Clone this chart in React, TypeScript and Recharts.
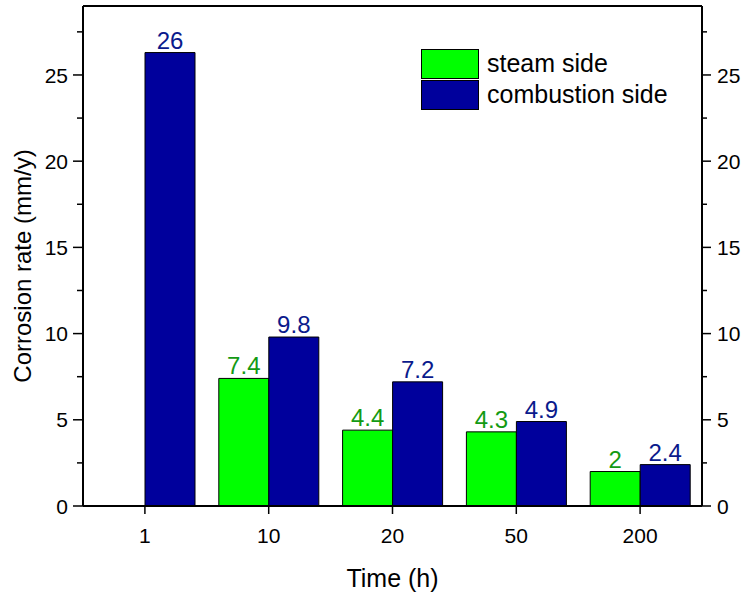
import {
  BarChart,
  Bar,
  XAxis,
  YAxis,
  Legend,
  LabelList,
} from "recharts";

const times = ["1", "10", "20", "50", "200"];
const steamSide = [null, 7.4, 4.4, 4.3, 2.0];
const combustionSide = [26.3, 9.8, 7.2, 4.9, 2.4];
const steamLabels = [null, "7.4", "4.4", "4.3", "2"];
const combustionLabels = ["26", "9.8", "7.2", "4.9", "2.4"];
const seriesNames = ["steam side", "combustion side"];
const yTicks = [0, 2.5, 5, 7.5, 10, 12.5, 15, 17.5, 20, 22.5, 25, 27.5];
const topTicks = [0.5, 1, 1.5, 2, 2.5, 3, 3.5, 4, 4.5];

const data = times.map((t, i) => ({
  time: t,
  steam: steamSide[i],
  combustion: combustionSide[i],
  steamLabel: steamLabels[i],
  combustionLabel: combustionLabels[i],
}));

const FONT = "'Liberation Sans', Arial, sans-serif";

function LeftTick({ x, y, payload }: any) {
  const major = payload.value % 5 === 0;
  return (
    <g>
      <line x1={x - (major ? 10 : 6)} x2={x} y1={y} y2={y} stroke="#000" strokeWidth={1.5} />
      {major && (
        <text x={x - 15} y={y} dy="0.36em" textAnchor="end" fontSize={21} fontFamily={FONT} fill="#000">
          {payload.value}
        </text>
      )}
    </g>
  );
}

function RightTick({ x, y, payload }: any) {
  const major = payload.value % 5 === 0;
  return (
    <g>
      <line x1={x} x2={x + (major ? 9 : 5)} y1={y} y2={y} stroke="#000" strokeWidth={1.5} />
      {major && (
        <text x={x + 15} y={y} dy="0.36em" textAnchor="start" fontSize={21} fontFamily={FONT} fill="#000">
          {payload.value}
        </text>
      )}
    </g>
  );
}

function LegendBox({ payload }: any) {
  const items = [...(payload || [])].sort(
    (a: any, b: any) => seriesNames.indexOf(a.value) - seriesNames.indexOf(b.value)
  );
  return (
    <div style={{ fontFamily: FONT, fontSize: 25, color: "#000" }}>
      {items.map((p: any) => (
        <div key={p.value} style={{ display: "flex", alignItems: "center", height: 31 }}>
          <div
            style={{
              width: 56,
              height: 28,
              background: p.color,
              border: "1px solid #000",
              marginRight: 8,
            }}
          />
          <span>{p.value}</span>
        </div>
      ))}
    </div>
  );
}

export default function App() {
  return (
    <div style={{ width: 743, height: 597, background: "#fff" }}>
      <style>{"body{margin:0}"}</style>
      <BarChart
        width={743}
        height={597}
        data={data}
        margin={{ top: 6, right: 0, bottom: 0, left: 0 }}
        barSize={50}
        barGap={0}
      >
        <XAxis
          dataKey="time"
          height={91}
          stroke="#000"
          axisLine={{ stroke: "#000", strokeWidth: 2 }}
          tickLine={{ stroke: "#000", strokeWidth: 1.5 }}
          tickSize={8}
          tickMargin={14}
          tick={{ fill: "#000", fontSize: 21, fontFamily: FONT }}
          label={({ viewBox }: any) => (
            <text
              x={viewBox.x + viewBox.width / 2}
              y={viewBox.y + 81}
              textAnchor="middle"
              fontSize={25}
              fontFamily={FONT}
              fill="#000"
            >
              Time (h)
            </text>
          )}
        />
        <XAxis
          xAxisId="top"
          orientation="top"
          type="number"
          domain={[0, 5]}
          allowDataOverflow
          ticks={topTicks}
          interval={0}
          mirror
          height={1}
          tick={false}
          tickSize={8}
          axisLine={{ stroke: "#000", strokeWidth: 2 }}
          tickLine={{ stroke: "#000", strokeWidth: 1.5 }}
        />
        <YAxis
          yAxisId="left"
          width={83}
          domain={[0, 29]}
          allowDataOverflow
          ticks={yTicks}
          interval={0}
          tickSize={0}
          tickMargin={0}
          tickLine={false}
          axisLine={{ stroke: "#000", strokeWidth: 2 }}
          tick={<LeftTick />}
          label={({ viewBox }: any) => {
            const cx = 22;
            const cy = viewBox.y + viewBox.height / 2 + 10;
            return (
              <text
                x={cx}
                y={cy}
                transform={`rotate(-90 ${cx} ${cy})`}
                textAnchor="middle"
                dy="0.36em"
                fontSize={24}
                fontFamily={FONT}
                fill="#000"
              >
                Corrosion rate (mm/y)
              </text>
            );
          }}
        />
        <YAxis
          yAxisId="right"
          orientation="right"
          width={41}
          domain={[0, 29]}
          allowDataOverflow
          ticks={yTicks}
          interval={0}
          tickSize={0}
          tickMargin={0}
          tickLine={false}
          axisLine={{ stroke: "#000", strokeWidth: 2 }}
          tick={<RightTick />}
        />
        <Legend
          layout="vertical"
          align="center"
          verticalAlign="middle"
          wrapperStyle={{ position: "absolute", left: 421, top: 48, width: "auto" }}
          content={<LegendBox />}
        />
        <Bar
          yAxisId="left"
          dataKey="steam"
          name={seriesNames[0]}
          fill="#00ff00"
          stroke="#000"
          strokeWidth={1}
          isAnimationActive={false}
        >
          <LabelList dataKey="steamLabel" position="top" offset={4} fill="#139a13" fontSize={24} fontFamily={FONT} />
        </Bar>
        <Bar
          yAxisId="left"
          dataKey="combustion"
          name={seriesNames[1]}
          fill="#00009c"
          stroke="#000"
          strokeWidth={1}
          isAnimationActive={false}
        >
          <LabelList dataKey="combustionLabel" position="top" offset={4} fill="#0a1a8c" fontSize={24} fontFamily={FONT} />
        </Bar>
      </BarChart>
    </div>
  );
}
